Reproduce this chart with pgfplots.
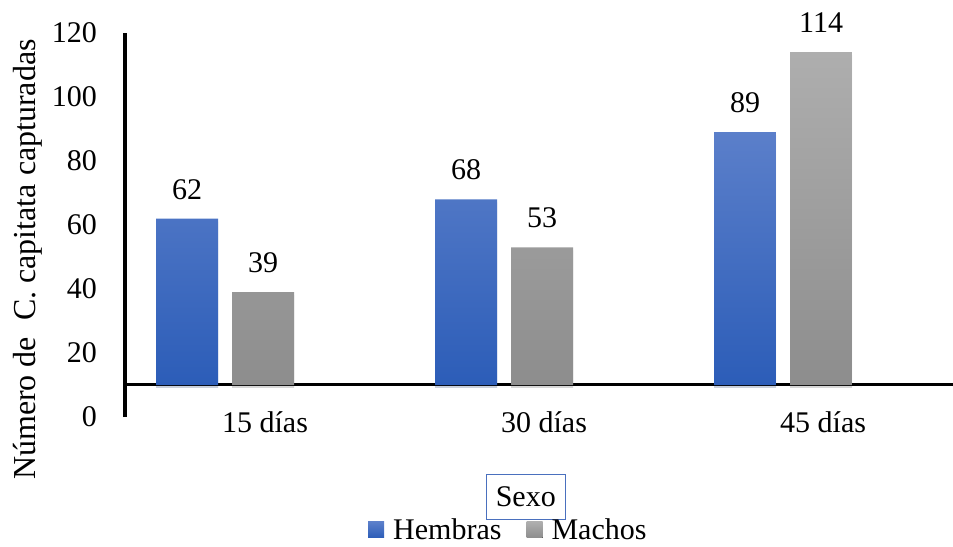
\documentclass[border=0pt]{standalone}
\usepackage{fontspec}
\setmainfont{Liberation Serif}
\usepackage{pgfplots}
\pgfplotsset{compat=1.18}
\definecolor{blueTop}{HTML}{5B7FCA}
\definecolor{blueBot}{HTML}{2C5DB8}
\definecolor{grayTop}{HTML}{AEAEAE}
\definecolor{grayBot}{HTML}{8D8D8D}
\definecolor{boxBlue}{HTML}{4A70BE}
\newcommand{\bigfont}{\fontsize{30bp}{36bp}\selectfont}
\begin{document}
\begin{tikzpicture}
\useasboundingbox (0,0) rectangle (953bp,547bp);
\begin{axis}[
  at={(125bp,130bp)}, anchor=south west,
  scale only axis, width=828bp, height=384bp,
  clip=false,
  font=\bigfont,
  /pgf/number format/assume math mode=true,
  xmin=-0.3584, xmax=2.609,
  ymin=0, ymax=120,
  y coord trafo/.code={\pgfmathparse{#1-10}},
  y coord inv trafo/.code={\pgfmathparse{#1+10}},
  axis x line*=middle, axis y line*=left,
  hide obscured x ticks=false, hide obscured y ticks=false,
  axis line style={line width=3bp, black},
  major tick length=0pt,
  ytick={0,20,40,60,80,100,120},
  yticklabels={0,20,40,60,80,100,120},
  yticklabel style={font=\bigfont, anchor=east, inner sep=0pt, xshift=-28bp},
  xtick={0,1,2},
  xticklabels={15 días,30 días,45 días},
  xticklabel style={font=\bigfont, anchor=north, inner sep=0pt, xshift=40bp, yshift=-26bp},
  ybar, bar width=62bp,
  point meta=rawy,
  nodes near coords,
  nodes near coords style={font=\bigfont, anchor=south, inner sep=0pt, yshift=19bp},
  ylabel={Número de\ \ C. capitata capturadas},
  every axis y label/.style={at={(rel axis cs:-0.117,0.41)}, rotate=90, anchor=center, font=\fontsize{32bp}{38bp}\selectfont},
  legend style={at={(rel axis cs:0.463,-0.294)}, anchor=center, draw=none, fill=none,
    legend columns=2, font=\bigfont,
    /tikz/every even column/.append style={column sep=23bp}},
  legend image code/.code={\pgfpathrectangle{\pgfpoint{0bp}{-8bp}}{\pgfpoint{23bp}{16bp}}\pgfusepath{}\fill[#1] (0bp,-8bp) rectangle (16bp,8bp);},
]
\addplot[forget plot, bar shift=-38bp, draw=none, top color=blueTop, bottom color=blueBot,
  preaction={fill=black, fill opacity=0.12, transform canvas={yshift=-3bp}}]
  coordinates {(0,62) (1,68) (2,89)};
\addplot[forget plot, bar shift=38bp, draw=none, top color=grayTop, bottom color=grayBot,
  preaction={fill=black, fill opacity=0.12, transform canvas={yshift=-3bp}}]
  coordinates {(0,39) (1,53) (2,114)};
\addlegendimage{draw=none, top color=blueTop, bottom color=blueBot}
\addlegendentry{Hembras}
\addlegendimage{draw=none, top color=grayTop, bottom color=grayBot}
\addlegendentry{Machos}
\node[draw=boxBlue, line width=1.5bp, fill=white, minimum width=79bp, minimum height=45bp, inner sep=0pt, font=\bigfont] at (rel axis cs:0.484,-0.208) {Sexo};
\end{axis}
\end{tikzpicture}
\end{document}
